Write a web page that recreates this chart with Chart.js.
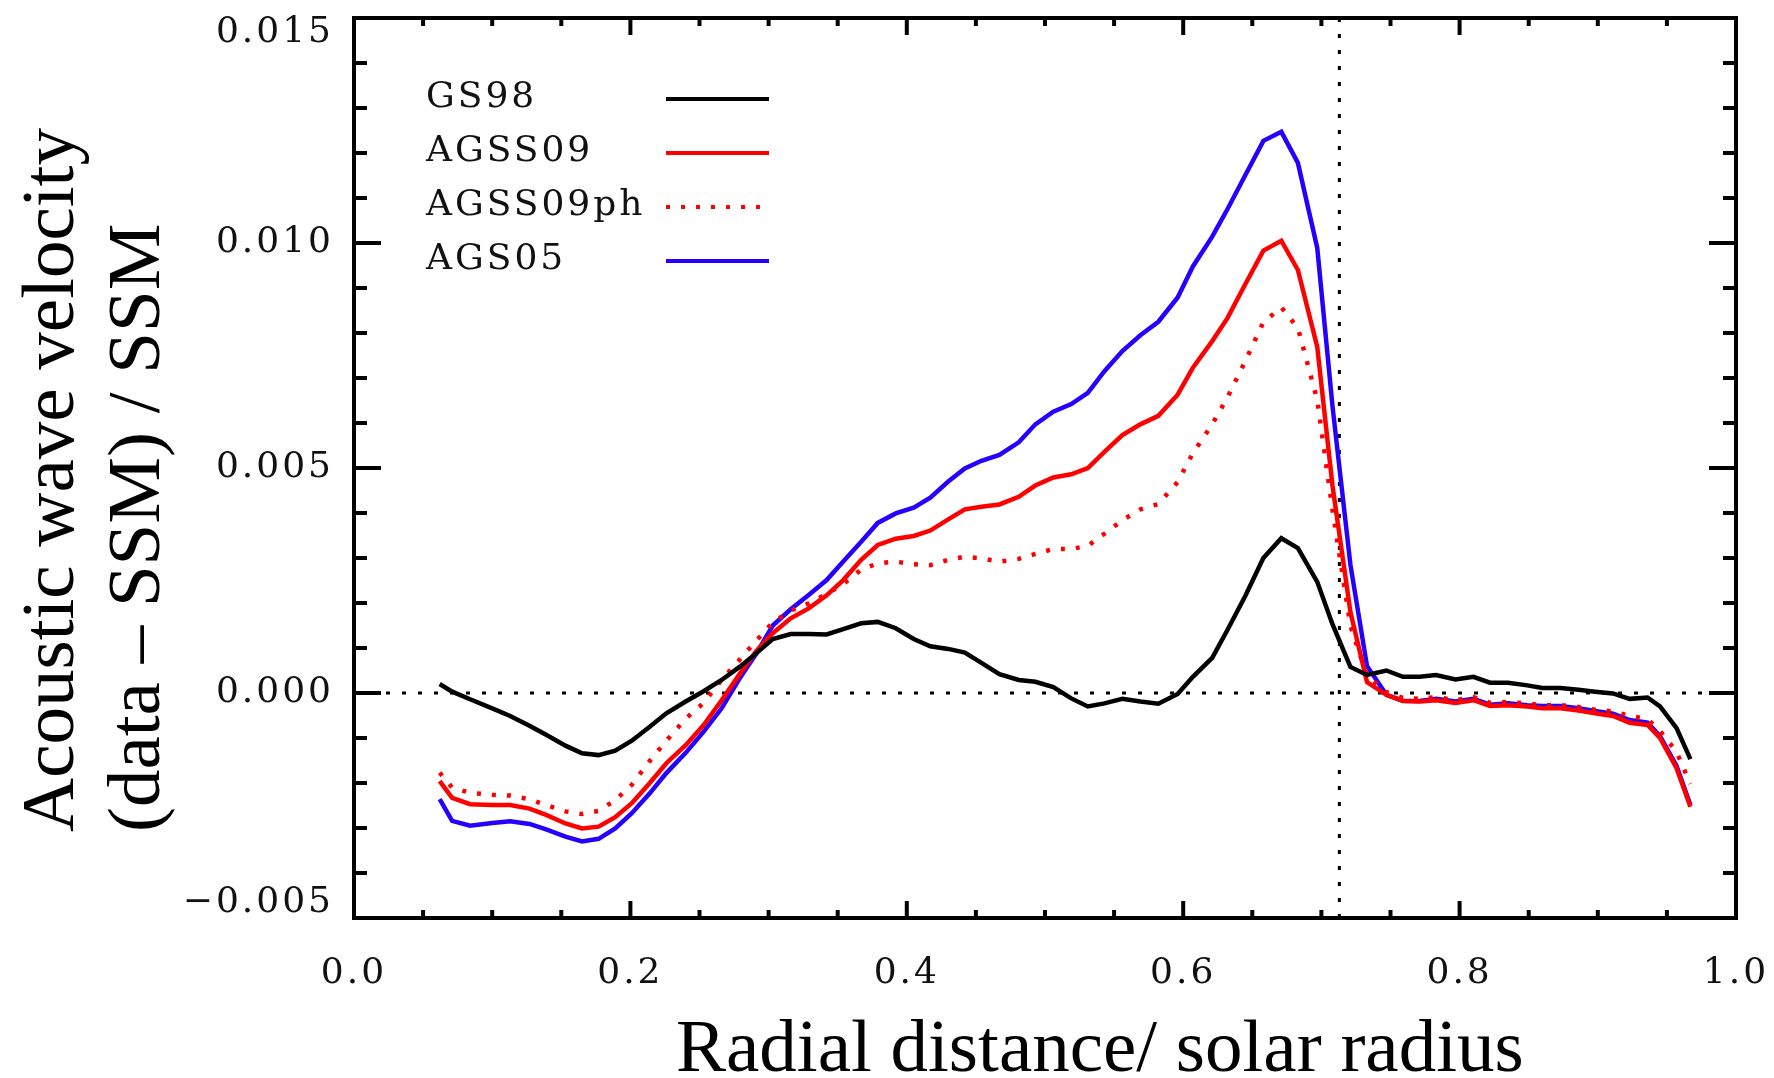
<!DOCTYPE html>
<html>
<head>
<meta charset="utf-8">
<title>Acoustic wave velocity</title>
<script src="https://cdn.jsdelivr.net/npm/chart.js@4.4.1/dist/chart.umd.min.js"></script>
<style>
  html, body { margin: 0; padding: 0; background: #fff; }
  #wrap { width: 1774px; height: 1078px; }
</style>
</head>
<body>
<div id="wrap"><canvas id="chart" width="1774" height="1078"></canvas></div>
<script>
// radial position (r / R_sun) of the sampled points
const radius = [
  0.062, 0.071, 0.084, 0.100, 0.113, 0.127, 0.139, 0.153, 0.165, 0.177,
  0.189, 0.201, 0.214, 0.226, 0.240, 0.253, 0.266, 0.279, 0.291, 0.303,
  0.316, 0.329, 0.342, 0.354, 0.367, 0.379, 0.392, 0.405, 0.417, 0.430,
  0.442, 0.454, 0.467, 0.481, 0.493, 0.506, 0.519, 0.531, 0.543, 0.556,
  0.569, 0.582, 0.596, 0.607, 0.621, 0.632, 0.645, 0.658, 0.671, 0.683,
  0.697, 0.708, 0.721, 0.733, 0.747, 0.759, 0.771, 0.783, 0.797, 0.810,
  0.822, 0.835, 0.849, 0.860, 0.873, 0.886, 0.898, 0.911, 0.923, 0.936,
  0.945, 0.957, 0.967
];

// (data - SSM) / SSM for each solar model
const gs98 = [
  0.00020, 0.00003, -0.00014, -0.00034, -0.00051, -0.00073, -0.00093, -0.00117, -0.00134, -0.00138,
  -0.00128, -0.00106, -0.00075, -0.00045, -0.00019, 0.00004, 0.00029, 0.00058, 0.00088, 0.00120,
  0.00131, 0.00131, 0.00130, 0.00142, 0.00155, 0.00158, 0.00144, 0.00120, 0.00104, 0.00098,
  0.00090, 0.00067, 0.00042, 0.00029, 0.00025, 0.00013, -0.00012, -0.00030, -0.00023, -0.00013,
  -0.00019, -0.00024, -0.00002, 0.00036, 0.00078, 0.00140, 0.00216, 0.00300, 0.00344, 0.00322,
  0.00247, 0.00153, 0.00058, 0.00040, 0.00050, 0.00036, 0.00036, 0.00040, 0.00030, 0.00036,
  0.00023, 0.00023, 0.00017, 0.00011, 0.00011, 0.00007, 0.00003, -0.00001, -0.00013, -0.00010,
  -0.00030, -0.00078, -0.00147
];
const agss09 = [
  -0.00196, -0.00233, -0.00247, -0.00249, -0.00249, -0.00257, -0.00271, -0.00290, -0.00301, -0.00297,
  -0.00276, -0.00245, -0.00200, -0.00156, -0.00116, -0.00071, -0.00016, 0.00042, 0.00093, 0.00133,
  0.00166, 0.00188, 0.00217, 0.00251, 0.00296, 0.00329, 0.00343, 0.00349, 0.00361, 0.00386,
  0.00408, 0.00414, 0.00419, 0.00436, 0.00461, 0.00479, 0.00486, 0.00500, 0.00536, 0.00573,
  0.00597, 0.00616, 0.00663, 0.00723, 0.00782, 0.00833, 0.00909, 0.00983, 0.01005, 0.00940,
  0.00769, 0.00461, 0.00180, 0.00024, -0.00004, -0.00018, -0.00019, -0.00016, -0.00022, -0.00016,
  -0.00029, -0.00027, -0.00030, -0.00034, -0.00034, -0.00039, -0.00045, -0.00051, -0.00066, -0.00071,
  -0.00100, -0.00167, -0.00253
];
const agss09ph = [
  -0.00177, -0.00210, -0.00222, -0.00226, -0.00228, -0.00236, -0.00249, -0.00263, -0.00269, -0.00262,
  -0.00238, -0.00204, -0.00151, -0.00106, -0.00057, -0.00022, 0.00029, 0.00074, 0.00116, 0.00157,
  0.00183, 0.00199, 0.00220, 0.00242, 0.00274, 0.00288, 0.00292, 0.00286, 0.00284, 0.00296,
  0.00303, 0.00299, 0.00292, 0.00298, 0.00309, 0.00320, 0.00320, 0.00327, 0.00354, 0.00384,
  0.00408, 0.00420, 0.00469, 0.00533, 0.00597, 0.00657, 0.00738, 0.00824, 0.00857, 0.00811,
  0.00651, 0.00407, 0.00149, 0.00038, 0.00002, -0.00011, -0.00013, -0.00009, -0.00016, -0.00009,
  -0.00022, -0.00020, -0.00023, -0.00027, -0.00027, -0.00031, -0.00037, -0.00041, -0.00051, -0.00058,
  -0.00084, -0.00131, -0.00202
];
const ags05 = [
  -0.00236, -0.00284, -0.00295, -0.00289, -0.00285, -0.00291, -0.00303, -0.00319, -0.00330, -0.00324,
  -0.00301, -0.00267, -0.00223, -0.00178, -0.00133, -0.00086, -0.00034, 0.00032, 0.00087, 0.00150,
  0.00186, 0.00218, 0.00251, 0.00292, 0.00336, 0.00378, 0.00399, 0.00412, 0.00434, 0.00470,
  0.00499, 0.00516, 0.00529, 0.00557, 0.00597, 0.00625, 0.00642, 0.00667, 0.00715, 0.00760,
  0.00795, 0.00825, 0.00879, 0.00948, 0.01014, 0.01075, 0.01151, 0.01227, 0.01247, 0.01178,
  0.00989, 0.00638, 0.00285, 0.00060, -0.00004, -0.00017, -0.00018, -0.00013, -0.00019, -0.00013,
  -0.00026, -0.00023, -0.00027, -0.00029, -0.00029, -0.00034, -0.00040, -0.00046, -0.00060, -0.00066,
  -0.00096, -0.00162, -0.00249
];

const xTicks = [0, 0.2, 0.4, 0.6, 0.8, 1.0];
const yTicks = [-0.005, 0, 0.005, 0.010, 0.015];
const czBase = 0.713; // base of the convection zone

const tickFont = { family: 'DejaVu Serif', size: 36, lineHeight: 0.84 };

const toPoints = (ys) => radius.map((r, i) => ({ x: r, y: ys[i] }));

function yLabel(v) {
  const txt = v < 0 ? '\u2212' + Math.abs(v).toFixed(3) : v.toFixed(3);
  // nudge the end labels inside the frame, like the original plot
  if (v === yTicks[yTicks.length - 1]) return ['', txt];
  if (v === yTicks[0]) return [txt, ''];
  return txt;
}

// fixed plot box: scale sizes are pinned, no extra label padding
function pinX(s) {
  s.height = 160;
  s.paddingLeft = 0; s.paddingRight = 0;
}
function pinY(s) {
  s.width = 354;
  s.paddingTop = 0; s.paddingBottom = 0;
}

const framePlugin = {
  id: 'frame',
  beforeDraw(chart) {
    chart.ctx.letterSpacing = '3px';
  },
  afterDraw(chart) {
    const { ctx, chartArea: a, scales: { x, y } } = chart;
    ctx.save();
    ctx.strokeStyle = '#000';
    ctx.lineWidth = 4;
    ctx.strokeRect(a.left, a.top, a.right - a.left, a.bottom - a.top);

    // inward ticks on all four sides
    ctx.beginPath();
    for (let k = 0; k <= 20; k++) {
      const px = x.getPixelForValue(k * 0.05);
      const len = k % 4 === 0 ? 17 : 8;
      ctx.moveTo(px, a.bottom); ctx.lineTo(px, a.bottom - len);
      ctx.moveTo(px, a.top); ctx.lineTo(px, a.top + len);
    }
    for (let k = -5; k <= 15; k++) {
      const py = y.getPixelForValue(k / 1000);
      const len = k % 5 === 0 ? 27 : 13;
      ctx.moveTo(a.left, py); ctx.lineTo(a.left + len, py);
      ctx.moveTo(a.right, py); ctx.lineTo(a.right - len, py);
    }
    ctx.stroke();

    // legend: name on the left, line sample on the right
    ctx.font = '36px "DejaVu Serif"';
    ctx.letterSpacing = '3px';
    ctx.textAlign = 'left';
    ctx.textBaseline = 'alphabetic';
    chart.data.datasets.filter(d => d.label).forEach((d, i) => {
      const base = a.top + 89 + i * 54;
      ctx.fillStyle = '#111';
      ctx.fillText(d.label, a.left + 72, base);
      ctx.beginPath();
      ctx.strokeStyle = d.borderColor;
      ctx.lineWidth = 4;
      ctx.setLineDash(d.borderDash || []);
      ctx.moveTo(a.left + 312, base - 8);
      ctx.lineTo(a.left + 415, base - 8);
      ctx.stroke();
    });
    ctx.setLineDash([]);

    // axis titles
    ctx.letterSpacing = '0px';
    ctx.fillStyle = '#000';
    ctx.font = '75px "Liberation Serif"';
    ctx.fillText('Radial distance/ solar radius', 676, 1071);
    ['Acoustic wave velocity', '(data \u2013 SSM) / SSM'].forEach((line, i) => {
      ctx.save();
      ctx.translate(73 + i * 86, 832);
      ctx.rotate(-Math.PI / 2);
      ctx.fillText(line, 0, 0);
      ctx.restore();
    });
    ctx.restore();
  }
};

const curve = { pointRadius: 0, borderWidth: 4.5, tension: 0, fill: false };

new Chart(document.getElementById('chart'), {
  type: 'line',
  data: {
    datasets: [
      { ...curve, label: 'GS98', data: toPoints(gs98), borderColor: '#000000', order: 0 },
      { ...curve, label: 'AGSS09', data: toPoints(agss09), borderColor: '#ff0000', order: 2 },
      { ...curve, label: 'AGSS09ph', data: toPoints(agss09ph), borderColor: '#ff0000',
        borderDash: [4, 11], order: 1 },
      { ...curve, label: 'AGS05', data: toPoints(ags05), borderColor: '#2600ff', order: 3 },
      { ...curve, data: [{ x: 0, y: 0 }, { x: 1, y: 0 }], borderColor: '#000',
        borderWidth: 3, borderDash: [4, 12], order: 9 },
      { ...curve, data: [{ x: czBase, y: yTicks[0] }, { x: czBase, y: yTicks[yTicks.length - 1] }],
        borderColor: '#000', borderWidth: 3, borderDash: [4, 12], order: 9 }
    ]
  },
  options: {
    responsive: false,
    animation: false,
    devicePixelRatio: 1,
    events: [],
    layout: { padding: { top: 18, right: 38, left: 0, bottom: 0 } },
    plugins: { legend: { display: false }, tooltip: { enabled: false } },
    scales: {
      x: {
        type: 'linear',
        min: 0,
        max: 1,
        grid: { display: false },
        border: { display: false },
        afterBuildTicks: (s) => { s.ticks = xTicks.map(v => ({ value: v })); },
        afterFit: pinX,
        ticks: {
          font: { family: 'DejaVu Serif', size: 36 },
          color: '#111',
          padding: 26,
          maxRotation: 0,
          autoSkip: false,
          callback: (v) => v.toFixed(1)
        }
      },
      y: {
        min: yTicks[0],
        max: yTicks[yTicks.length - 1],
        grid: { display: false },
        border: { display: false },
        afterBuildTicks: (s) => { s.ticks = yTicks.map(v => ({ value: v })); },
        afterFit: pinY,
        ticks: {
          font: tickFont,
          color: '#111',
          padding: 12,
          autoSkip: false,
          callback: (v) => yLabel(v)
        }
      }
    }
  },
  plugins: [framePlugin]
});
</script>
</body>
</html>
